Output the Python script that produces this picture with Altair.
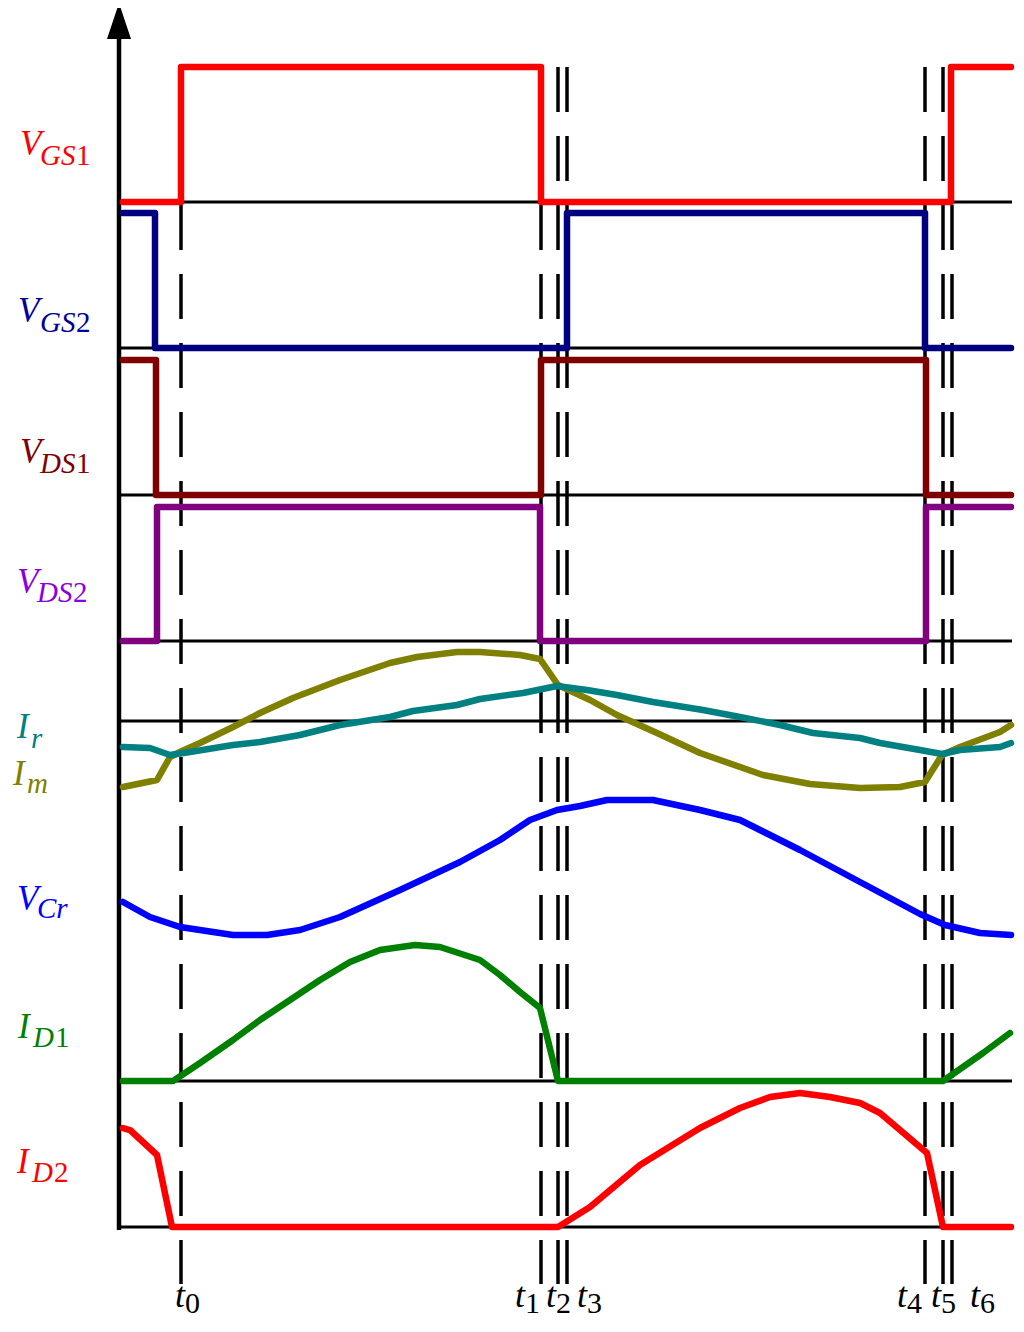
import altair as alt
import pandas as pd

# ---- canvas mapping: values are read in reference-picture units ----
W, H = 1008, 1316
X0, Y0 = 8, 8

# ---- switching instants (dashed markers) ----
t_names = ["t0", "t1", "t2", "t3", "t4", "t5", "t6"]
dash_x = [181, 541, 558, 567, 925, 943, 952]
dash_top, dash_bottom = 67, 1284

# ---- zero lines of each waveform ----
base_y = [202, 348, 495, 641, 721, 1081, 1227]
base_x0, base_x1 = 119, 1012

# ---- waveforms ----
vgs1_x = [123, 181, 181, 541, 541, 951, 951, 1011]
vgs1_y = [202, 202, 67, 67, 202, 202, 67, 67]

vgs2_x = [123, 155, 155, 567, 567, 925, 925, 1011]
vgs2_y = [213, 213, 348, 348, 213, 213, 348, 348]

vds1_x = [123, 156, 156, 541, 541, 926, 926, 1011]
vds1_y = [360, 360, 495, 495, 360, 360, 495, 495]

vds2_x = [123, 157, 157, 540, 540, 926, 926, 1011]
vds2_y = [641, 641, 507, 507, 641, 641, 507, 507]

ir_x = [123, 150, 170, 190, 233, 260, 300, 340, 390, 413, 457, 480, 523, 557,
        587, 617, 653, 703, 740, 780, 813, 860, 880, 920, 942, 960, 1000, 1011]
ir_y = [747, 748, 755, 752, 745, 742, 735, 725, 717, 711, 705, 699, 693, 686,
        690, 695, 702, 710, 717, 725, 733, 738, 743, 750, 754, 750, 747, 743]

im_x = [123, 157, 170, 182, 200, 233, 260, 293, 340, 390, 417, 457, 480, 520,
        540, 558, 590, 617, 657, 700, 763, 810, 860, 900, 925, 942, 960, 1000, 1011]
im_y = [787, 780, 757, 751, 743, 727, 713, 698, 680, 663, 657, 652, 652, 655,
        659, 685, 700, 715, 733, 753, 775, 784, 788, 787, 782, 755, 747, 732, 725]

vcr_x = [123, 150, 180, 233, 267, 300, 340, 400, 460, 500, 530, 557, 580, 607,
         653, 700, 740, 800, 860, 920, 945, 980, 1011]
vcr_y = [902, 917, 927, 935, 935, 930, 917, 890, 862, 840, 820, 810, 806, 800,
         800, 810, 820, 850, 882, 914, 925, 933, 935]

id1_x = [123, 173, 182, 200, 233, 260, 290, 320, 350, 380, 415, 440, 480, 500,
         520, 540, 558, 943, 983, 1010]
id1_y = [1081, 1081, 1075, 1063, 1040, 1020, 1000, 980, 962, 950, 945, 947, 960,
         975, 992, 1008, 1081, 1081, 1053, 1033]

id2_x = [123, 130, 157, 172, 558, 590, 640, 700, 740, 770, 800, 830, 860, 880,
         900, 927, 943, 1011]
id2_y = [1128, 1130, 1155, 1227, 1227, 1207, 1165, 1128, 1108, 1097, 1093, 1097,
         1103, 1113, 1130, 1153, 1227, 1227]

series = [
    ("VGS1", vgs1_x, vgs1_y, "#FF0000"),
    ("VGS2", vgs2_x, vgs2_y, "#000080"),
    ("VDS1", vds1_x, vds1_y, "#800000"),
    ("VDS2", vds2_x, vds2_y, "#800080"),
    ("Im", im_x, im_y, "#808000"),
    ("Ir", ir_x, ir_y, "#008080"),
    ("VCr", vcr_x, vcr_y, "#0000FF"),
    ("ID1", id1_x, id1_y, "#008000"),
    ("ID2", id2_x, id2_y, "#FF0000"),
]

# ---- labels: main symbol (italic), italic subscript, upright subscript digit ----
main_txt = ["V", "V", "V", "V", "I", "I", "V", "I", "I"]
main_x = [20, 18, 20, 17, 17, 13, 17, 18, 17]
main_y = [155, 322, 463, 593, 738, 785, 910, 1038, 1173]
main_col = ["#FF0000", "#000099", "#800000", "#8B00E0", "#008080", "#808000",
            "#0000FF", "#008000", "#FF0000"]
sub_txt = ["GS", "GS", "DS", "DS", "r", "m", "Cr", "D", "D"]
sub_x = [40, 40, 40, 37, 31, 27, 37, 33, 32]
sub_y = [165, 332, 473, 602, 748, 793, 918, 1047, 1182]
dig_txt = ["1", "2", "1", "2", "", "", "", "1", "2"]
dig_x = [76, 76, 76, 73, 0, 0, 0, 55, 54]

t_x = [175, 515, 546, 577, 897, 931, 970]
t_digit_x = [185, 525, 556, 587, 907, 941, 980]
t_digits = ["0", "1", "2", "3", "4", "5", "6"]

# ---------------------------------------------------------------
xs = alt.Scale(domain=[X0, X0 + W], zero=False, nice=False)
ys = alt.Scale(domain=[Y0, Y0 + H], zero=False, nice=False, reverse=True)
noax = None

def X(f):
    return alt.X(f, type="quantitative", scale=xs, axis=noax)

def Y(f):
    return alt.Y(f, type="quantitative", scale=ys, axis=noax)

base_df = pd.DataFrame({"y": base_y, "x0": base_x0, "x1": base_x1})
baselines = alt.Chart(base_df).mark_rule(color="black", strokeWidth=3).encode(
    x=X("x0"), x2="x1", y=Y("y"))

axis_df = pd.DataFrame({"x": [119], "y0": [30], "y1": [1230]})
axis_line = alt.Chart(axis_df).mark_rule(color="black", strokeWidth=4.5).encode(
    x=X("x"), y=Y("y0"), y2="y1")

arrow_df = pd.DataFrame({"x": [107, 119, 131], "y": [39, 3, 39], "yb": [39, 39, 39]})
arrow = alt.Chart(arrow_df).mark_area(color="black", opacity=1).encode(
    x=X("x"), y=Y("y"), y2="yb")

dash_df = pd.DataFrame({"name": t_names, "x": dash_x, "y0": dash_top, "y1": dash_bottom})
dashes = alt.Chart(dash_df).mark_rule(color="black", strokeWidth=3.5,
                                      strokeDash=[45, 24]).encode(
    x=X("x"), y=Y("y0"), y2="y1")

rows = []
for name, sx, sy, col in series:
    for i, (a, b) in enumerate(zip(sx, sy)):
        rows.append({"series": name, "i": i, "x": a, "y": b, "col": col})
tr_df = pd.DataFrame(rows)
traces = alt.Chart(tr_df).mark_line(strokeWidth=6.5, strokeCap="round",
                                    strokeJoin="round").encode(
    x=X("x"), y=Y("y"), detail="series:N",
    color=alt.Color("col:N", scale=None), order=alt.Order("i:Q"))

FONT = "Liberation Serif"
main_df = pd.DataFrame({"t": main_txt, "x": main_x, "y": main_y, "c": main_col})
main_lab = alt.Chart(main_df).mark_text(font=FONT, fontSize=35, fontStyle="italic",
                                        align="left", baseline="alphabetic").encode(
    x=X("x"), y=Y("y"), text="t:N", color=alt.Color("c:N", scale=None))

sub_df = pd.DataFrame({"t": sub_txt, "x": sub_x, "y": sub_y, "c": main_col})
sub_lab = alt.Chart(sub_df).mark_text(font=FONT, fontSize=29, fontStyle="italic",
                                      align="left", baseline="alphabetic").encode(
    x=X("x"), y=Y("y"), text="t:N", color=alt.Color("c:N", scale=None))

dig_df = pd.DataFrame({"t": dig_txt, "x": dig_x, "y": sub_y, "c": main_col})
dig_df = dig_df[dig_df["t"] != ""]
dig_lab = alt.Chart(dig_df).mark_text(font=FONT, fontSize=29,
                                      align="left", baseline="alphabetic").encode(
    x=X("x"), y=Y("y"), text="t:N", color=alt.Color("c:N", scale=None))

tl_df = pd.DataFrame({"t": ["t"] * 7, "x": t_x, "y": 1307})
t_lab = alt.Chart(tl_df).mark_text(font=FONT, fontSize=36, fontStyle="italic",
                                   align="left", baseline="alphabetic",
                                   color="black").encode(
    x=X("x"), y=Y("y"), text="t:N")

td_df = pd.DataFrame({"t": t_digits, "x": t_digit_x, "y": 1313})
td_lab = alt.Chart(td_df).mark_text(font=FONT, fontSize=30,
                                    align="left", baseline="alphabetic",
                                    color="black").encode(
    x=X("x"), y=Y("y"), text="t:N")

chart = alt.layer(baselines, dashes, axis_line, arrow, traces,
                  main_lab, sub_lab, dig_lab, t_lab, td_lab).properties(
    width=W, height=H, padding=0,
    autosize=alt.AutoSizeParams(type="none"),
).configure_view(strokeWidth=0)

chart.save("out.html", embed_options={"renderer": "svg", "actions": False})
